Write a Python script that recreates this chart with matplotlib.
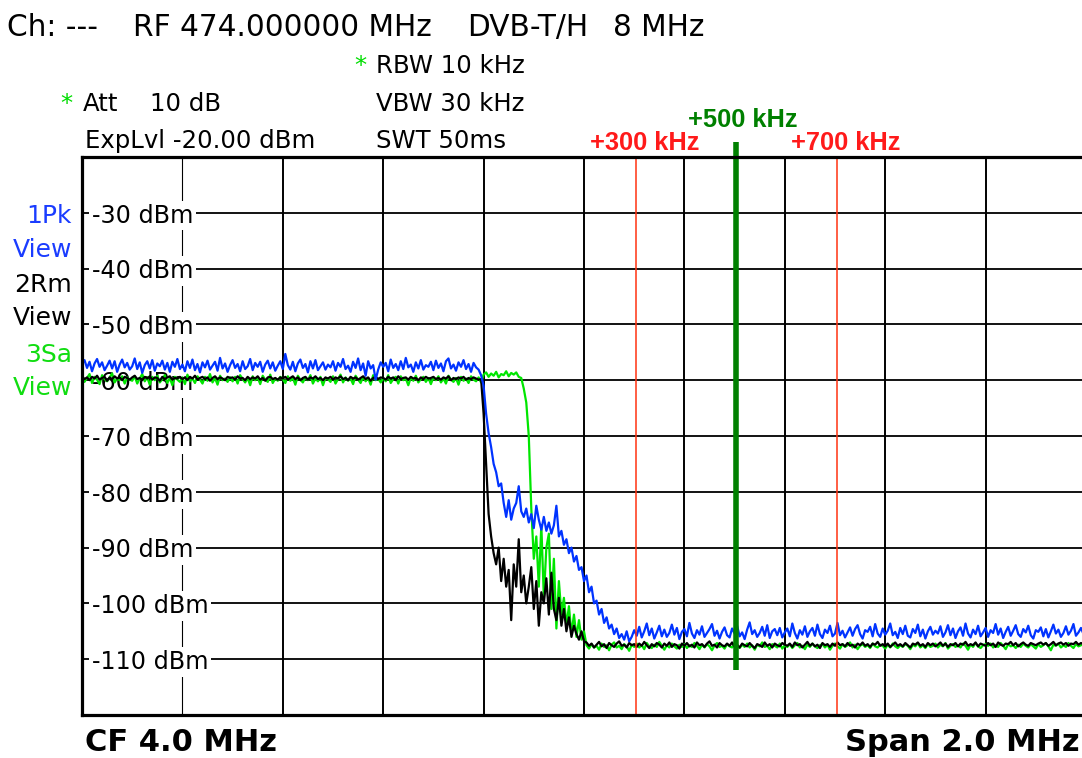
import numpy as np
import matplotlib
matplotlib.use("Agg")
import matplotlib.pyplot as plt

# ---------------- data ----------------
FREQ_START_MHZ = 3.0       # left edge of the sweep (CF 4.0 MHz, span 2.0 MHz)
FREQ_STEP_MHZ = 0.005      # trace sample spacing

# 1Pk View (blue) trace, dBm
blue_dbm = [
    # 3.000 - 3.795 MHz (flat)
    -57.1, -56.4, -57.8, -56.7, -58.4, -57.0, -56.2, -57.6, -56.8, -58.2, -57.4, -56.5, -57.9, -56.6, -58.5, -57.2, -56.3, -57.7, -56.9, -58.1,
    -57.5, -56.1, -58.0, -56.8, -58.7, -57.3, -56.6, -57.9, -56.4, -58.3, -57.0, -57.5, -56.5, -58.1, -56.9, -58.5, -56.7, -57.6, -56.2, -58.0,
    -57.2, -58.4, -56.6, -57.8, -56.3, -58.2, -57.1, -58.6, -56.8, -57.7, -56.5, -58.1, -57.4, -56.7, -58.3, -56.0, -57.9, -57.0, -58.5, -57.3,
    -56.4, -57.8, -57.1, -58.4, -56.6, -58.0, -57.5, -56.2, -58.2, -56.9, -57.6, -56.7, -58.5, -57.2, -56.5, -57.9, -56.8, -58.3, -57.4, -56.6,
    -58.0, -55.3, -57.3, -58.1, -56.7, -58.4, -57.0, -56.3, -57.8, -57.1, -58.6, -56.6, -57.9, -56.4, -58.2, -57.5, -56.8, -58.1, -57.2, -57.7,
    -56.6, -58.3, -56.9, -57.6, -56.2, -58.0, -57.4, -58.5, -56.7, -57.8, -56.1, -58.2, -57.0, -59.2, -56.6, -57.9, -57.3, -59.9, -58.1, -56.8,
    -57.6, -56.9, -58.4, -56.3, -57.8, -57.1, -58.2, -56.6, -58.0, -56.0, -57.7, -57.2, -58.5, -56.8, -57.9, -56.4, -58.1, -57.3, -57.6, -56.7,
    -58.2, -56.5, -57.8, -57.0, -58.4, -56.6, -56.1, -57.9, -57.2, -58.3, -56.8, -57.6, -56.4, -58.0, -57.1, -58.5, -56.9, -57.7, -58.1, -59.1,
    # 3.800 - 4.100 MHz (roll-off)
    -61.0, -66.0, -69.5, -72.0, -75.0, -76.5, -79.0, -78.5, -82.0, -84.5,
    -81.5, -85.0, -83.0, -82.0, -79.0, -83.5, -84.5, -83.0, -85.5, -84.0,
    -86.5, -82.5, -85.0, -86.8, -84.5, -87.0, -85.5, -87.5, -86.0, -82.5,
    -88.0, -87.0, -89.5, -88.5, -91.0, -90.0, -92.5, -91.5, -94.0, -93.5,
    -96.0, -95.0, -98.0, -97.0, -100.0, -99.5, -102.0, -101.0, -103.5, -102.5,
    -104.5, -103.8, -105.5, -104.5, -106.2, -105.5, -106.5, -105.0, -106.8, -106.0,
    -104.8,
    # 4.105 - 5.000 MHz (noise floor)
    -105.8, -104.2, -106.1, -105.0, -103.6, -105.7, -104.5, -106.3, -105.2, -104.0, -105.9, -104.7, -106.0, -105.3, -103.8, -105.6, -104.4, -106.4, -105.1, -104.6,
    -105.9, -103.5, -105.4, -106.2, -104.8, -105.6, -104.1, -106.0, -105.3, -104.6, -103.7, -105.8, -104.9, -106.3, -105.1, -104.3, -105.7, -106.1, -104.5, -105.4,
    -104.0, -105.9, -105.2, -106.4, -104.7, -103.4, -105.5, -104.8, -106.0, -105.3, -104.2, -105.8, -103.9, -106.2, -105.0, -104.6, -105.7, -104.4, -106.1, -105.2,
    -104.5, -105.9, -103.6, -105.3, -106.3, -104.8, -105.6, -104.1, -106.0, -105.0, -104.4, -105.8, -103.8, -105.5, -106.2, -104.7, -105.3, -104.0, -105.9, -105.4,
    -103.5, -105.7, -104.9, -106.1, -105.2, -104.3, -105.8, -104.6, -103.9, -105.5, -106.3, -104.8, -105.1, -104.2, -105.9, -103.7, -105.4, -106.0, -104.5, -105.6,
    -104.9, -103.6, -105.7, -105.1, -106.2, -104.4, -105.5, -104.0, -105.8, -106.1, -104.6, -105.3, -103.8, -105.9, -104.7, -106.3, -105.0, -104.2, -105.6, -104.9,
    -105.4, -104.1, -106.0, -105.2, -103.9, -105.7, -104.5, -106.2, -105.0, -104.3, -105.8, -103.6, -105.4, -106.1, -104.7, -105.5, -104.0, -105.9, -105.2, -104.4,
    -106.0, -104.8, -105.3, -103.7, -105.6, -104.5, -106.2, -105.1, -104.2, -105.8, -104.9, -103.9, -105.5, -106.0, -104.6, -105.2, -104.0, -105.7, -106.3, -104.8,
    -105.1, -104.3, -105.9, -104.6, -106.1, -105.0, -103.8, -105.4, -104.7, -106.0, -105.3, -104.1, -105.6, -104.9, -103.7, -105.8, -105.2, -104.4, -105.5, -104.6,
]

# 2Rm View (black) trace, dBm
black_dbm = [
    # 3.000 - 3.795 MHz (flat)
    -59.3, -59.8, -59.5, -60.0, -59.4, -59.7, -59.2, -59.9, -59.6, -59.4, -60.1, -59.5, -59.8, -59.3, -59.7, -59.5, -60.0, -59.4, -59.6, -59.9,
    -59.5, -59.2, -59.8, -59.6, -60.0, -59.4, -59.7, -59.3, -59.9, -59.5, -59.6, -60.1, -59.4, -59.8, -59.5, -59.3, -59.9, -59.6, -59.7, -59.4,
    -59.8, -59.5, -60.0, -59.4, -59.7, -59.2, -59.9, -59.6, -59.4, -59.8, -59.5, -60.1, -59.6, -59.3, -59.8, -59.5, -59.7, -60.0, -59.4, -59.6,
    -59.5, -59.9, -59.3, -59.7, -59.6, -60.0, -59.4, -59.8, -59.5, -59.7, -59.3, -59.9, -59.6, -60.1, -59.5, -59.4, -59.8, -59.6, -59.9, -59.5,
    -59.7, -59.4, -59.9, -59.6, -59.3, -59.8, -59.5, -60.0, -59.6, -59.4, -59.9, -59.5, -59.7, -59.3, -59.8, -59.6, -60.0, -59.5, -59.7, -59.4,
    -59.9, -59.5, -59.7, -59.3, -59.8, -59.6, -60.0, -59.4, -59.7, -59.5, -59.9, -59.6, -59.3, -59.8, -59.5, -60.1, -59.6, -59.4, -59.8, -59.5,
    -59.6, -59.9, -59.4, -59.7, -59.5, -60.0, -59.3, -59.8, -59.6, -59.5, -59.9, -59.4, -59.7, -59.6, -60.0, -59.5, -59.8, -59.4, -59.7, -59.6,
    -59.4, -59.8, -59.6, -59.9, -59.5, -59.7, -59.3, -60.0, -59.6, -59.8, -59.5, -59.7, -59.4, -59.9, -59.6, -59.8, -59.5, -59.7, -59.9, -59.8,
    # 3.800 - 4.000 MHz (roll-off)
    -66.0, -75.0, -84.0, -88.0, -91.0, -93.0, -90.0, -96.0, -92.0, -97.0,
    -94.0, -103.0, -93.0, -97.0, -88.5, -98.0, -95.0, -100.0, -97.0, -93.5,
    -101.0, -96.0, -104.0, -98.0, -100.0, -95.5, -102.0, -94.5, -101.0, -103.0,
    -99.0, -104.0, -101.0, -105.0, -102.5, -106.0, -104.0, -105.5, -106.5, -105.0,
    -106.8,
    # 4.005 - 5.000 MHz (noise floor)
    -107.0, -107.6, -107.2, -107.9, -107.4, -106.9, -107.7, -107.3, -108.0, -107.1, -107.5, -107.8, -107.2, -106.8, -107.6, -107.4, -107.9, -107.1, -107.5, -107.3,
    -107.8, -107.2, -107.6, -106.9, -107.5, -108.0, -107.3, -107.7, -107.1, -107.4, -107.9, -107.2, -107.6, -107.0, -107.8, -107.3, -107.5, -108.1, -107.2, -107.6,
    -107.1, -107.7, -107.4, -107.9, -107.0, -107.5, -107.3, -107.8, -107.2, -106.8, -107.6, -107.4, -107.9, -107.1, -107.5, -107.7, -107.2, -107.6, -107.0, -107.8,
    -107.4, -107.9, -107.2, -107.5, -107.7, -107.1, -107.6, -108.0, -107.3, -107.5, -107.8, -107.0, -107.6, -107.3, -107.9, -107.2, -107.5, -107.7, -107.1, -107.4,
    -107.6, -107.2, -107.8, -107.0, -107.5, -107.3, -107.9, -107.4, -106.9, -107.6, -107.2, -107.7, -107.4, -108.0, -107.1, -107.5, -107.3, -107.8, -107.2, -107.6,
    -107.0, -107.5, -107.3, -107.7, -107.1, -107.6, -107.4, -107.9, -107.2, -107.5, -107.0, -107.6, -107.3, -107.8, -107.2, -107.4, -106.9, -107.6, -107.3, -107.7,
    -107.2, -107.8, -107.4, -107.0, -107.6, -107.3, -107.7, -107.1, -107.5, -107.9, -107.2, -107.4, -107.0, -107.6, -107.3, -107.8, -107.1, -107.5, -107.2, -107.7,
    -107.4, -107.0, -107.6, -107.2, -107.8, -107.3, -107.5, -107.1, -107.7, -107.2, -107.4, -106.9, -107.6, -107.3, -107.5, -107.0, -107.7, -107.2, -107.4, -107.6,
    -107.1, -107.5, -107.2, -107.8, -107.0, -107.4, -107.6, -107.2, -107.3, -106.9, -107.5, -107.1, -107.7, -107.3, -107.0, -107.4, -107.6, -107.1, -107.3, -107.5,
    -107.2, -107.0, -107.4, -107.1, -107.6, -107.3, -106.9, -107.5, -107.2, -107.0, -107.4, -107.1, -107.6, -107.2, -107.3, -106.9, -107.4, -107.1, -107.3, -107.2,
]

# 3Sa View (green) trace, dBm
green_dbm = [
    # 3.000 - 3.875 MHz (flat)
    -59.2, -60.3, -59.6, -58.9, -60.5, -59.4, -59.9, -60.7, -59.1, -59.8, -60.2, -59.5, -58.8, -60.4, -59.7, -60.0, -59.3, -60.6, -59.5, -59.9,
    -60.1, -59.3, -60.6, -59.7, -58.9, -60.2, -59.5, -60.8, -59.4, -60.0, -59.2, -60.4, -59.8, -59.1, -60.5, -59.6, -60.9, -59.4, -59.9, -60.3,
    -59.5, -60.7, -59.0, -60.2, -59.7, -60.5, -59.3, -59.9, -60.6, -59.4, -60.1, -58.9, -60.4, -59.6, -60.8, -59.2, -60.0, -59.7, -60.3, -59.5,
    -60.2, -59.4, -60.6, -59.1, -59.8, -60.4, -59.6, -60.9, -59.3, -60.0, -59.5, -60.7, -59.2, -59.9, -60.3, -59.0, -60.5, -59.7, -60.1, -59.4,
    -59.8, -60.5, -59.3, -60.1, -59.6, -60.8, -59.2, -59.9, -60.4, -59.5, -60.0, -59.1, -60.6, -59.7, -60.2, -59.4, -60.9, -59.6, -59.8, -60.3,
    -59.3, -60.6, -59.8, -59.0, -60.4, -59.5, -60.1, -59.7, -60.7, -59.2, -59.9, -60.5, -59.4, -60.2, -59.6, -60.8, -59.1, -60.0, -59.7, -60.4,
    -59.6, -60.2, -59.1, -60.5, -59.8, -59.4, -60.6, -59.3, -60.0, -59.7, -60.9, -59.5, -60.1, -59.2, -60.4, -59.8, -59.4, -60.3, -59.6, -60.7,
    -59.5, -60.0, -59.3, -60.4, -59.7, -60.6, -59.2, -59.9, -60.3, -59.6, -60.8, -59.4, -60.1, -59.7, -60.5, -59.3, -59.9, -60.2, -59.5, -60.4,
    -59.0, -58.6, -59.4, -58.8, -59.2, -58.5, -59.5, -58.9, -59.1, -58.4, -59.3, -58.7, -59.0, -58.6, -59.4, -59.6,
    # 3.880 - 4.000 MHz (roll-off)
    -61.5, -64.0, -70.0, -83.0, -92.0, -88.0, -97.0, -86.0, -99.0, -90.0,
    -87.5, -101.0, -92.0, -104.5, -96.0, -102.0, -99.0, -104.0, -100.5, -105.5,
    -102.0, -106.0, -103.0, -106.5, -105.0,
    # 4.005 - 5.000 MHz (noise floor)
    -107.5, -108.1, -107.3, -107.9, -107.6, -108.3, -107.2, -107.8, -107.5, -108.4, -107.4, -107.0, -107.9, -107.6, -108.2, -107.3, -107.7, -108.5, -107.4, -107.8,
    -107.2, -107.9, -107.5, -108.2, -107.1, -107.7, -108.0, -107.4, -107.8, -106.9, -107.6, -108.3, -107.5, -107.9, -107.2, -107.7, -108.1, -107.4, -107.8, -107.3,
    -108.0, -107.5, -107.8, -107.1, -107.6, -108.2, -107.4, -107.9, -107.3, -107.7, -108.4, -107.5, -107.1, -107.8, -107.6, -108.1, -107.3, -107.7, -107.9, -107.2,
    -107.6, -108.0, -107.4, -107.8, -107.2, -107.9, -107.5, -108.3, -107.4, -107.7, -107.0, -107.8, -107.6, -108.2, -107.3, -107.6, -107.9, -107.2, -108.1, -107.5,
    -107.8, -107.3, -108.0, -107.5, -107.1, -107.9, -107.6, -108.2, -107.4, -107.8, -107.2, -107.7, -108.0, -107.5, -107.3, -107.9, -107.4, -108.3, -107.6, -107.2,
    -107.7, -108.1, -107.3, -107.8, -107.5, -107.0, -107.9, -107.4, -108.2, -107.6, -107.3, -107.8, -107.5, -108.0, -107.2, -107.7, -107.9, -107.4, -107.6, -108.1,
    -107.4, -107.9, -107.2, -107.7, -108.0, -107.5, -107.8, -107.3, -107.6, -108.2, -107.4, -107.7, -107.1, -107.9, -107.5, -108.0, -107.3, -107.8, -107.6, -107.2,
    -107.9, -107.4, -107.7, -107.1, -108.1, -107.6, -107.3, -107.8, -107.5, -107.9, -107.2, -107.6, -108.3, -107.4, -107.8, -107.1, -107.7, -108.0, -107.5, -107.3,
    -107.6, -107.2, -107.9, -107.5, -107.8, -107.1, -107.6, -108.2, -107.3, -107.7, -107.5, -108.0, -107.4, -107.8, -107.2, -107.6, -107.9, -107.3, -107.7, -108.1,
    -107.3, -107.8, -107.5, -107.1, -107.7, -108.4, -107.4, -107.6, -107.2, -107.9, -107.5, -107.8, -107.1, -107.6, -108.0, -107.3, -107.7, -107.5, -107.2, -107.6,
]

x_range_mhz = [3.0, 5.0]
y_range_dbm = [-120, -20]
v_grid_mhz = [3.2, 3.4, 3.6, 3.8, 4.0, 4.2, 4.4, 4.6, 4.8]
level_dbm = [-30, -40, -50, -60, -70, -80, -90, -100, -110]
level_labels = ["-30 dBm", "-40 dBm", "-50 dBm", "-60 dBm", "-70 dBm",
                "-80 dBm", "-90 dBm", "-100 dBm", "-110 dBm"]

marker_ref_mhz = 3.803
marker_offsets_khz = [300, 500, 700]
marker_labels = ["+300 kHz", "+500 kHz", "+700 kHz"]

header_parts = ["Ch: ---", "RF 474.000000 MHz", "DVB-T/H", "8 MHz"]
trace_labels = ["1Pk", "View", "2Rm", "View", "3Sa", "View"]

# ---------------- figure ----------------
W, H = 1082, 758
fig = plt.figure(figsize=(W / 100, H / 100), dpi=100)
fig.patch.set_facecolor("white")


def fx(px):
    return px / W


def fy(py):
    return 1 - py / H


AX_L, AX_R, AX_T, AX_B = 82, 1086, 157, 715
ax = fig.add_axes([fx(AX_L), fy(AX_B), (AX_R - AX_L) / W, (AX_B - AX_T) / H])
ax.set_xlim(*x_range_mhz)
ax.set_ylim(*y_range_dbm)
ax.set_xticks([])
ax.set_yticks([])
for side in ["left", "top", "bottom", "right"]:
    ax.spines[side].set_linewidth(2.3)
    ax.spines[side].set_color("black")
    ax.spines[side].set_zorder(10)

# grid
for f in v_grid_mhz:
    ax.axvline(f, color="black", lw=0.8 if f == v_grid_mhz[0] else 1.4, zorder=1)
for v in level_dbm:
    ax.axhline(v, color="black", lw=1.3, zorder=1)

# level labels inside the plot (white boxes interrupt grid lines)
lab_x = x_range_mhz[0] + 10 / 502.0
for v, lab in zip(level_dbm, level_labels):
    ax.text(lab_x, v - 1.75, lab, fontsize=17.2, ha="left", va="baseline",
            color="black", zorder=2,
            bbox=dict(facecolor="white", edgecolor="none", pad=2.0))

# traces
freq = FREQ_START_MHZ + FREQ_STEP_MHZ * np.arange(len(blue_dbm))
ax.plot(freq, green_dbm, color="#00e600", lw=1.6, zorder=3)
ax.plot(freq, black_dbm, color="black", lw=1.6, zorder=4)
ax.plot(freq, blue_dbm, color="#0033ff", lw=1.6, zorder=5)

# frequency markers
px_per_mhz = (AX_R - AX_L) / (x_range_mhz[1] - x_range_mhz[0])
for off, lab in zip(marker_offsets_khz, marker_labels):
    f = marker_ref_mhz + off / 1000.0
    xpx = AX_L + (f - x_range_mhz[0]) * px_per_mhz
    if off == 500:
        ax.plot([f, f], [-111.9, -17.4], color="#008000", lw=4.0,
                solid_capstyle="butt", clip_on=False, zorder=8)
        fig.text(fx(xpx + 7), fy(127), lab, color="#008000", fontsize=18.3,
                 family="Liberation Sans", weight="bold", ha="center", va="baseline")
    else:
        ax.axvline(f, color="#ff3311", lw=1.1, zorder=7)
        fig.text(fx(xpx + 9), fy(150), lab, color="#ff1a1a", fontsize=18.3,
                 family="Liberation Sans", weight="bold", ha="center", va="baseline")

# header
for xpos, txt in zip([7, 133, 467, 613], header_parts):
    fig.text(fx(xpos), fy(36), txt, fontsize=21.3, ha="left", va="baseline", color="black")

# settings block
GREEN_STAR = "#00dd00"
FS = 17.6
fig.text(fx(354), fy(73), "*", fontsize=FS, color=GREEN_STAR, ha="left", va="baseline")
fig.text(fx(376), fy(73), "RBW 10 kHz", fontsize=FS, ha="left", va="baseline")
fig.text(fx(60), fy(111), "*", fontsize=FS, color=GREEN_STAR, ha="left", va="baseline")
fig.text(fx(83), fy(111), "Att", fontsize=FS, ha="left", va="baseline")
fig.text(fx(150), fy(111), "10 dB", fontsize=FS, ha="left", va="baseline")
fig.text(fx(376), fy(111), "VBW 30 kHz", fontsize=FS, ha="left", va="baseline")
fig.text(fx(85), fy(148), "ExpLvl -20.00 dBm", fontsize=FS, ha="left", va="baseline")
fig.text(fx(376), fy(148), "SWT 50ms", fontsize=FS, ha="left", va="baseline")

# trace labels on the left
trace_colors = ["#1a3cff", "#1a3cff", "black", "black", "#11dd11", "#11dd11"]
trace_base = [223, 257, 292, 325, 362, 395]
for txt, col, yb in zip(trace_labels, trace_colors, trace_base):
    fig.text(fx(72), fy(yb), txt, fontsize=18, color=col, ha="right", va="baseline")

# footer
fig.text(fx(85), fy(751), "CF 4.0 MHz", fontsize=22, weight="bold",
         ha="left", va="baseline")
fig.text(fx(1080), fy(751), "Span 2.0 MHz", fontsize=22, weight="bold",
         ha="right", va="baseline")

fig.savefig("out.png", dpi=100, facecolor="white")
